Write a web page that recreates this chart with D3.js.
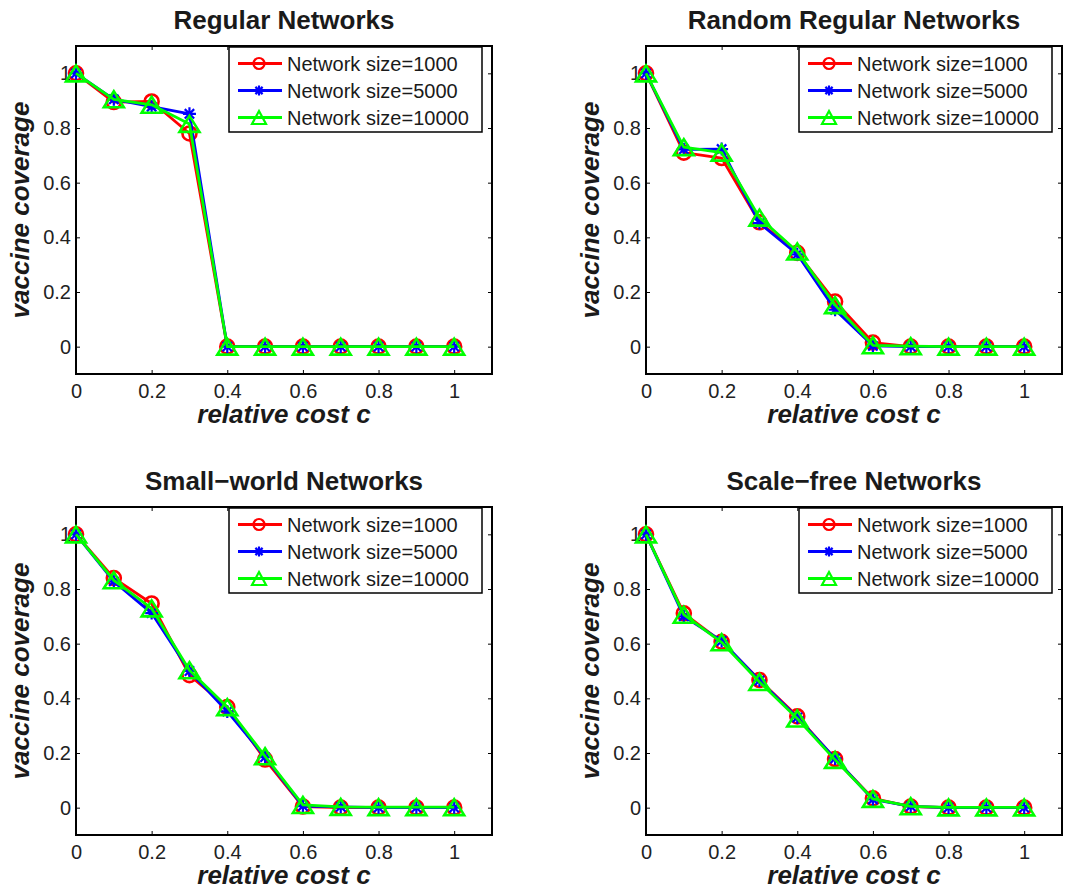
<!DOCTYPE html>
<html>
<head>
<meta charset="utf-8">
<script src="https://cdn.jsdelivr.net/npm/d3@7"></script>
<style>
  body { margin: 0; background: #fff; }
  svg { display: block; font-family: "Liberation Sans", Arial, sans-serif; }
</style>
</head>
<body>
<svg id="chart" width="1068" height="888"></svg>
<script>
// relative cost c (x values shared by every panel)
const costs = [0, 0.1, 0.2, 0.3, 0.4, 0.5, 0.6, 0.7, 0.8, 0.9, 1];

const seriesNames = ["Network size=1000", "Network size=5000", "Network size=10000"];
const seriesColors = ["#ff0000", "#0000ff", "#00ff00"];
const seriesMarkers = ["circle", "star", "triangle"];

const xTicks = [0, 0.2, 0.4, 0.6, 0.8, 1];
const yTicks = [0, 0.2, 0.4, 0.6, 0.8, 1];

// vaccine coverage
const regular1000 = [1.0, 0.895, 0.897, 0.78, 0, 0, 0, 0, 0, 0, 0];
const regular5000 = [1.0, 0.905, 0.878, 0.852, 0, 0, 0, 0, 0, 0, 0];
const regular10000 = [1.0, 0.905, 0.885, 0.815, 0, 0, 0, 0, 0, 0, 0];

const randomReg1000 = [1.0, 0.71, 0.69, 0.455, 0.343, 0.165, 0.015, 0, 0, 0, 0];
const randomReg5000 = [1.0, 0.722, 0.723, 0.452, 0.338, 0.135, 0.003, 0, 0, 0, 0];
const randomReg10000 = [1.0, 0.73, 0.71, 0.472, 0.348, 0.152, 0.005, 0.002, 0, 0, 0];

const smallWorld1000 = [1.0, 0.84, 0.747, 0.485, 0.368, 0.176, 0.004, 0, 0, 0, 0];
const smallWorld5000 = [1.0, 0.828, 0.712, 0.5, 0.352, 0.185, 0.006, 0.003, 0, 0, 0];
const smallWorld10000 = [1.0, 0.832, 0.729, 0.503, 0.368, 0.188, 0.01, 0.003, 0.002, 0.002, 0.002];

const scaleFree1000 = [1.0, 0.711, 0.607, 0.467, 0.334, 0.178, 0.034, 0.004, 0, 0, 0];
const scaleFree5000 = [1.0, 0.7, 0.61, 0.465, 0.33, 0.18, 0.03, 0.005, 0, 0, 0];
const scaleFree10000 = [1.0, 0.706, 0.605, 0.46, 0.326, 0.175, 0.032, 0.005, 0.001, 0.001, 0.001];

const panels = [
  { title: "Regular Networks", left: 76, top: 46, series: [regular1000, regular5000, regular10000] },
  { title: "Random Regular Networks", left: 646, top: 46, series: [randomReg1000, randomReg5000, randomReg10000] },
  { title: "Small\u2212world Networks", left: 76, top: 507, series: [smallWorld1000, smallWorld5000, smallWorld10000] },
  { title: "Scale\u2212free Networks", left: 646, top: 507, series: [scaleFree1000, scaleFree5000, scaleFree10000] },
];

const W = 416, H = 328;
const svg = d3.select("#chart");

function drawMarker(g, type, color, big) {
  if (type === "circle") {
    g.append("circle").attr("r", big ? 7 : 5.5)
      .attr("fill", "none").attr("stroke", color).attr("stroke-width", big ? 2.6 : 2.2);
  } else if (type === "triangle") {
    const w = big ? 10 : 7, h = big ? 16 : 13;
    g.append("path")
      .attr("d", `M0,${-h / 2}L${w},${h / 2}L${-w},${h / 2}Z`)
      .attr("fill", "none").attr("stroke", color).attr("stroke-width", big ? 2.6 : 2.2)
      .attr("stroke-linejoin", "miter");
  } else {
    const r = big ? 6.5 : 5, d = r * 0.72;
    g.append("path")
      .attr("d", `M${-r},0H${r}M0,${-r}V${r}M${-d},${-d}L${d},${d}M${-d},${d}L${d},${-d}`)
      .attr("stroke", color).attr("stroke-width", 2.2);
  }
}

panels.forEach((p) => {
  const g = svg.append("g").attr("transform", `translate(${p.left},${p.top})`);
  const x = d3.scaleLinear().domain([0, 1.1]).range([0, W]);
  const y = d3.scaleLinear().domain([-0.1, 1.1]).range([H, 0]);

  // axes, MATLAB style: ticks inward on all four sides
  const fmt = (d) => String(d);
  g.append("g").attr("class", "ax").attr("transform", `translate(0,${H})`)
    .call(d3.axisBottom(x).tickValues(xTicks).tickFormat(fmt).tickSizeInner(-4).tickSizeOuter(0).tickPadding(10));
  g.append("g").attr("class", "ax")
    .call(d3.axisTop(x).tickValues(xTicks).tickFormat("").tickSizeInner(-4).tickSizeOuter(0));
  g.append("g").attr("class", "ax")
    .call(d3.axisLeft(y).tickValues(yTicks).tickFormat(fmt).tickSizeInner(-4).tickSizeOuter(0).tickPadding(5));
  g.append("g").attr("class", "ax").attr("transform", `translate(${W},0)`)
    .call(d3.axisRight(y).tickValues(yTicks).tickFormat("").tickSizeInner(-4).tickSizeOuter(0));

  g.selectAll(".ax .domain").remove();
  g.selectAll(".ax line").attr("stroke", "#000").attr("stroke-width", 1);
  g.selectAll(".ax text").attr("font-size", 20).attr("fill", "#222")
    .attr("font-family", "Liberation Sans, Arial, sans-serif");

  g.append("rect").attr("width", W).attr("height", H)
    .attr("fill", "none").attr("stroke", "#000").attr("stroke-width", 2);

  // data
  const line = d3.line().x((d, i) => x(costs[i])).y((d) => y(d));
  p.series.forEach((vals, k) => {
    g.append("path").datum(vals).attr("d", line)
      .attr("fill", "none").attr("stroke", seriesColors[k]).attr("stroke-width", 2.8)
      .attr("stroke-linejoin", "round");
    vals.forEach((v, i) => {
      const m = g.append("g").attr("transform", `translate(${x(costs[i])},${y(v)})`);
      drawMarker(m, seriesMarkers[k], seriesColors[k], true);
    });
  });

  // title and axis labels
  g.append("text").attr("x", W / 2).attr("y", -17).attr("text-anchor", "middle")
    .attr("font-size", 26).attr("font-weight", "bold").attr("fill", "#1a1a1a").text(p.title);
  g.append("text").attr("x", W / 2).attr("y", H + 49).attr("text-anchor", "middle")
    .attr("font-size", 26).attr("font-weight", "bold").attr("font-style", "italic")
    .attr("fill", "#1a1a1a").text("relative cost c");
  g.append("text").attr("transform", `translate(-47,${H / 2}) rotate(-90)`).attr("text-anchor", "middle")
    .attr("font-size", 26).attr("font-weight", "bold").attr("font-style", "italic")
    .attr("fill", "#1a1a1a").text("vaccine coverage");

  // legend
  const lg = g.append("g").attr("transform", `translate(${W - 263},1)`);
  lg.append("rect").attr("width", 253).attr("height", 85)
    .attr("fill", "#fff").attr("stroke", "#000").attr("stroke-width", 1.5);
  seriesNames.forEach((name, k) => {
    const cy = 16.5 + k * 27;
    lg.append("line").attr("x1", 9).attr("x2", 53).attr("y1", cy).attr("y2", cy)
      .attr("stroke", seriesColors[k]).attr("stroke-width", 2.8);
    const m = lg.append("g").attr("transform", `translate(30,${cy})`);
    drawMarker(m, seriesMarkers[k], seriesColors[k], false);
    lg.append("text").attr("x", 58).attr("y", cy + 7).attr("font-size", 20)
      .attr("fill", "#1a1a1a").text(name);
  });
});
</script>
</body>
</html>
